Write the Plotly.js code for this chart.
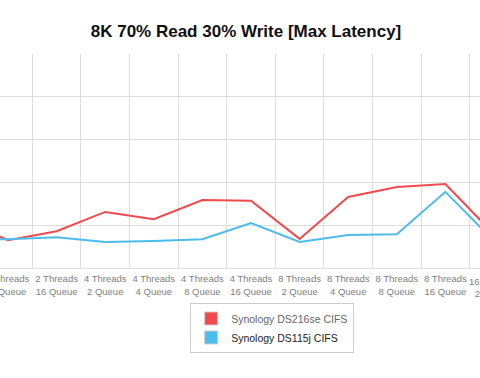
<!DOCTYPE html>
<html>
<head>
<meta charset="utf-8">
<script src="https://cdn.plot.ly/plotly-3.0.1.min.js"></script>
<style>html,body{margin:0;padding:0;background:#fff;}#chart{width:480px;height:378px;}</style>
</head>
<body>
<div id="chart"></div>
<script>
var categories = [
  "2 Threads<br>4 Queue", "2 Threads<br>8 Queue", "2 Threads<br>16 Queue",
  "4 Threads<br>2 Queue", "4 Threads<br>4 Queue", "4 Threads<br>8 Queue", "4 Threads<br>16 Queue",
  "8 Threads<br>2 Queue", "8 Threads<br>4 Queue", "8 Threads<br>8 Queue", "8 Threads<br>16 Queue",
  "16 Threads<br>2 Queue"
];
var ds216se = [11.6, 6.5, 8.6, 13.1, 11.4, 15.9, 15.7, 6.8, 16.6, 18.9, 19.6, 7.9];
var ds115j  = [6.8, 6.7, 7.2, 6.1, 6.3, 6.7, 10.5, 6.1, 7.7, 7.9, 17.8, 6.3];
var seriesNames = ["Synology DS216se CIFS", "Synology DS115j CIFS"];
var colors = ["#F0494E", "#4CBCEC"];

var traces = [
  {x: categories, y: ds216se, type: "scatter", mode: "lines", line: {color: colors[0], width: 2}, showlegend: false, hoverinfo: "skip"},
  {x: categories, y: ds115j, type: "scatter", mode: "lines", line: {color: colors[1], width: 2}, showlegend: false, hoverinfo: "skip"},
  {x: [null], y: [null], type: "scatter", mode: "markers", showlegend: true, name: '<span style="color:#666">' + seriesNames[0] + '</span>',
   marker: {symbol: "square", size: 13, color: colors[0], line: {color: "#cccccc", width: 1}}},
  {x: [null], y: [null], type: "scatter", mode: "markers", showlegend: true, name: '<span style="color:#222">' + seriesNames[1] + '</span>',
   marker: {symbol: "square", size: 13, color: colors[1], line: {color: "#cccccc", width: 1}}}
];

var layout = {
  width: 480, height: 378,
  margin: {l: 0, r: 0, t: 54, b: 110, pad: 0},
  paper_bgcolor: "#fff", plot_bgcolor: "#fff",
  font: {family: "Liberation Sans, Arial, Helvetica, sans-serif", color: "#666"},
  title: {text: "8K 70% Read 30% Write [Max Latency]", x: 0.5125, xref: "container", xanchor: "center",
          y: 1 - 31/378, yref: "container", yanchor: "middle",
          font: {size: 17, color: "#111", family: "Liberation Sans, Arial, Helvetica, sans-serif", weight: "bold"}},
  xaxis: {type: "category", categoryorder: "array", categoryarray: categories,
          range: [0.835, 10.712], tickson: "boundaries", showgrid: true, gridcolor: "#dddddd", gridwidth: 1,
          ticks: "", tickangle: 0, showline: true, linecolor: "#dddddd", linewidth: 1, ticklabelstandoff: 2,
          tickfont: {size: 9.5, color: "#808080"}, zeroline: false, fixedrange: true},
  yaxis: {range: [0, 50], dtick: 10, showticklabels: false, showgrid: true, gridcolor: "#dddddd", gridwidth: 1,
          zeroline: false, ticks: "", fixedrange: true},
  showlegend: true,
  legend: {x: 0.567, xanchor: "center", y: -0.1636, yanchor: "top", bordercolor: "#cccccc", borderwidth: 1,
           font: {size: 10.5, color: "#555"}, bgcolor: "#fff", tracegroupgap: 0},
  annotations: [
    {text: categories[11], xref: "paper", yref: "paper", x: 1 + 13/480, y: -0.03, xanchor: "center", yanchor: "top",
     showarrow: false, font: {size: 9.5, color: "#808080"}}
  ]
};

Plotly.newPlot("chart", traces, layout, {displayModeBar: false, staticPlot: true});
</script>
</body>
</html>
